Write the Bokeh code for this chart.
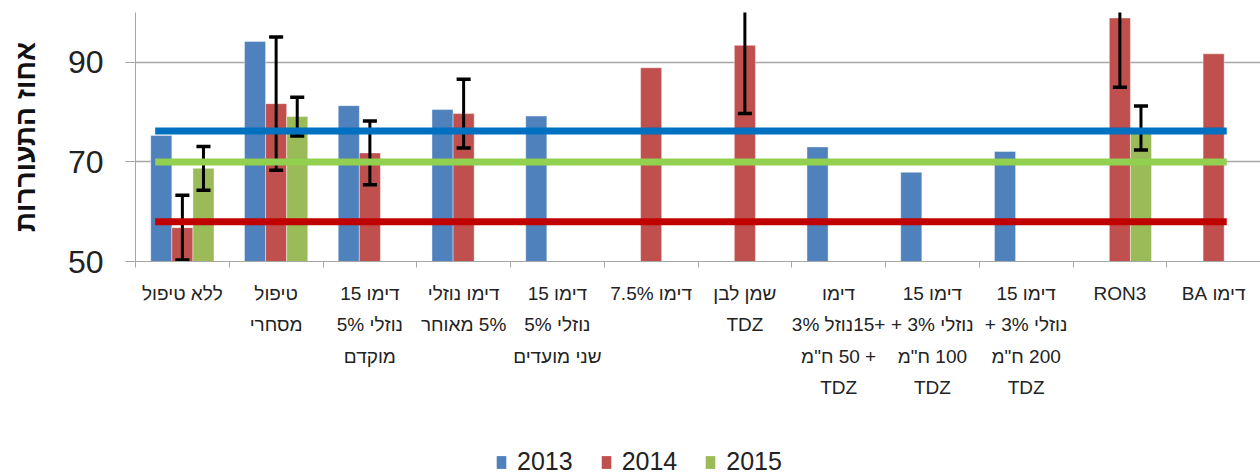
from bokeh.plotting import figure
from bokeh.models import FixedTicker, Legend, LegendItem, Range1d
from bokeh.layouts import column
from bokeh.embed import file_html
from bokeh.resources import INLINE

# ---------------- data ----------------
categories = [
    "ללא טיפול",
    "טיפול\nמסחרי",
    "דימו 15\nנוזלי 5%\nמוקדם",
    "דימו נוזלי\n5% מאוחר",
    "דימו 15\nנוזלי 5%\nשני מועדים",
    "דימו 7.5%",
    "שמן לבן\nTDZ",
    "דימו\n+15נוזל 3%\n+ 50 ח\"מ\nTDZ",
    "דימו 15\nנוזלי 3% +\n100 ח\"מ\nTDZ",
    "דימו 15\nנוזלי 3% +\n200 ח\"מ\nTDZ",
    "RON3",
    "דימו BA",
]
series_names = ["2013", "2014", "2015"]
v2013 = [75.3, 94.2, 81.3, 80.5, 79.2, None, None, 73.0, 67.9, 72.1, None, None]
v2014 = [56.8, 81.7, 71.8, 79.7, None, 88.9, 93.4, None, None, None, 98.9, 91.7]
v2015 = [68.7, 79.1, None, None, None, None, None, None, None, None, 76.8, None]
e2013 = [None] * 12
e2014 = [6.5, 13.4, 6.4, 6.9, None, None, 13.7, None, None, None, 13.9, None]
e2015 = [4.4, 3.9, None, None, None, None, None, None, None, None, 4.4, None]
ref_names = ["2013", "2015", "2014"]
ref_values = [76.2, 70.0, 58.0]
y_ticks = [50, 70, 90]
y_label = "אחוז התעוררות"

# ---------------- style ----------------
bar_colors = ["#4F81BD", "#C0504D", "#9BBB59"]
ref_colors = {"2013": "#0070C0", "2014": "#C00000", "2015": "#92D050"}
FONT = "Liberation Sans"
GRAY = "#A6A6A6"
BAR_W = 0.225

RLE, PDF = "\u202b", "\u202c"


def rtl(s):
    return "\n".join(RLE + line + PDF for line in s.split("\n"))


n = len(categories)
p = figure(width=1260, height=440, output_backend="svg", toolbar_location=None,
           x_range=Range1d(-0.5, n - 0.5), y_range=Range1d(50, 100),
           min_border_left=135, min_border_right=0, min_border_top=12,
           min_border_bottom=179)
p.outline_line_color = None
p.background_fill_color = "white"
p.border_fill_color = "white"

# axes
p.xaxis.ticker = FixedTicker(ticks=list(range(n)), minor_ticks=[i - 0.5 for i in range(n + 1)])
p.xaxis.major_label_overrides = {i: rtl(c) for i, c in enumerate(categories)}
p.xaxis.major_tick_line_color = None
p.xaxis.minor_tick_line_color = GRAY
p.xaxis.minor_tick_out = 6
p.xaxis.minor_tick_in = 0
p.xaxis.axis_line_color = GRAY
p.xaxis.major_label_text_font = FONT
p.xaxis.major_label_text_font_size = "19px"
p.xaxis.major_label_text_color = "#222222"
p.xaxis.major_label_standoff = 15
p.xaxis.major_label_text_line_height = 1.5

p.yaxis.ticker = FixedTicker(ticks=y_ticks, minor_ticks=[])
p.yaxis.axis_line_color = GRAY
p.yaxis.major_tick_line_color = GRAY
p.yaxis.major_tick_out = 10
p.yaxis.major_tick_in = 0
p.yaxis.major_label_text_font = FONT
p.yaxis.major_label_text_font_size = "32px"
p.yaxis.major_label_text_color = "#222222"
p.yaxis.major_label_standoff = 22
p.yaxis.axis_label = y_label
p.yaxis.axis_label_text_font = FONT
p.yaxis.axis_label_text_font_size = "28px"
p.yaxis.axis_label_text_font_style = "bold"
p.yaxis.axis_label_text_color = "#111111"
p.yaxis.axis_label_standoff = 24

p.xgrid.grid_line_color = None
p.ygrid.grid_line_color = GRAY
p.ygrid.grid_line_width = 1.5

# bars + error bars
all_vals = [v2013, v2014, v2015]
all_errs = [e2013, e2014, e2015]
err_x, err_lo, err_hi = [], [], []
for k, (name, vals, errs) in enumerate(zip(series_names, all_vals, all_errs)):
    off = (k - 1) * BAR_W
    xs = [i + off for i, v in enumerate(vals) if v is not None]
    tops = [v for v in vals if v is not None]
    p.vbar(x=xs, top=tops, bottom=0, width=BAR_W, fill_color=bar_colors[k],
           line_color="white", line_alpha=0.4, line_width=1)
    for i, (v, e) in enumerate(zip(vals, errs)):
        if v is not None and e is not None:
            err_x.append(i + off)
            err_lo.append(v - e)
            err_hi.append(v + e)

cap = 0.075
p.segment(x0=err_x, y0=err_lo, x1=err_x, y1=err_hi, line_color="black", line_width=3)
p.segment(x0=[x - cap for x in err_x], y0=err_lo, x1=[x + cap for x in err_x], y1=err_lo,
          line_color="black", line_width=3.5)
p.segment(x0=[x - cap for x in err_x], y0=err_hi, x1=[x + cap for x in err_x], y1=err_hi,
          line_color="black", line_width=3.5)

# reference lines
x_start = 0 - 0.29
x_end = (n - 1) + 0.14
for name, val in zip(ref_names, ref_values):
    p.segment(x0=[x_start], y0=[val], x1=[x_end], y1=[val],
              line_color=ref_colors[name], line_width=7)

# ---------------- legend strip ----------------
lg = figure(width=1260, height=36, output_backend="svg", toolbar_location=None,
            x_range=Range1d(0, 1), y_range=Range1d(0, 1),
            min_border_left=0, min_border_right=0, min_border_top=0, min_border_bottom=0)
lg.axis.visible = False
lg.grid.visible = False
lg.outline_line_color = None
items = []
for k, name in enumerate(series_names):
    # proxy renderer placed outside the visible range: only its legend swatch shows
    r = lg.vbar(x=[-5], top=[-5], bottom=[-6], width=0.1, fill_color=bar_colors[k], line_color=None)
    items.append(LegendItem(label=name, renderers=[r]))
legend = Legend(items=items, orientation="horizontal", location=(360, 0))
legend.label_text_font = FONT
legend.label_text_font_size = "25px"
legend.label_text_color = "#222222"
legend.glyph_width = 12
legend.glyph_height = 16
legend.label_height = 26
legend.label_standoff = 10
legend.spacing = 27
legend.padding = 0
legend.margin = 0
legend.border_line_color = None
legend.background_fill_alpha = 0
lg.add_layout(legend, "center")

layout = column(p, lg, spacing=0)
open("out.html", "w").write(file_html(layout, INLINE))
